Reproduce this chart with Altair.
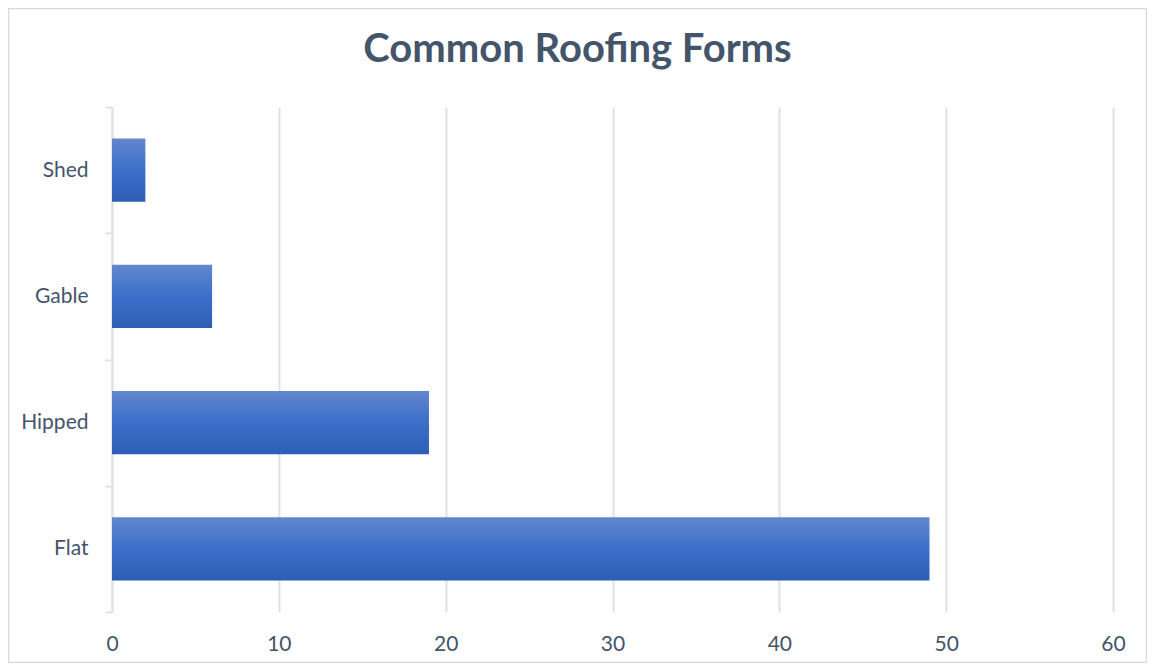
import altair as alt
import pandas as pd

categories = ["Shed", "Gable", "Hipped", "Flat"]
values = [2, 6, 19, 49]
x_ticks = [0, 10, 20, 30, 40, 50, 60]
title_text = "Common Roofing Forms"

df = pd.DataFrame({"form": categories, "count": values})

TEXT = "#44546A"
GRID = "#DDE1E8"
FONT = "Lato"

grad = alt.Gradient(
    gradient="linear",
    stops=[
        alt.GradientStop(color="#6287CD", offset=0),
        alt.GradientStop(color="#3B6FC9", offset=0.5),
        alt.GradientStop(color="#2D5EB5", offset=1),
    ],
    x1=0, x2=0, y1=0, y2=1,
)

bars = alt.Chart(df).mark_bar(color=grad, height=alt.RelativeBandSize(0.5)).encode(
    x=alt.X(
        "count:Q",
        scale=alt.Scale(domain=[0, 60], nice=False),
        axis=alt.Axis(
            values=x_ticks, title=None, ticks=False, domain=False,
            grid=True, gridColor=GRID, gridWidth=2, labelFlush=False,
            labelFont=FONT, labelFontSize=21, labelColor=TEXT, labelPadding=21,
        ),
    ),
    y=alt.Y(
        "form:N",
        sort=categories,
        scale=alt.Scale(paddingInner=0, paddingOuter=0),
        axis=alt.Axis(
            title=None, tickBand="extent", tickSize=7, tickColor=GRID, tickWidth=2,
            domainColor=GRID, domainWidth=2, grid=False,
            labelFont=FONT, labelFontSize=21, labelColor=TEXT, labelPadding=17,
        ),
    ),
)

title_df = pd.DataFrame({"t": [title_text]})
title = alt.Chart(title_df).mark_text(
    font=FONT, fontSize=40, fontWeight="bold", color=TEXT,
    align="center", baseline="middle",
).encode(
    text="t:N",
    x=alt.value(465.5),
    y=alt.value(-57),
)

border_df = pd.DataFrame({"b": [0]})
border = alt.Chart(border_df).mark_rect(
    fill=None, fillOpacity=0, stroke="#D9D9D9", strokeWidth=1.5
).encode(
    x=alt.value(-103.5), x2=alt.value(1034.5),
    y=alt.value(-98.5), y2=alt.value(555.5),
)

chart = alt.layer(bars, title, border).properties(
    width=1001,
    height=505,
    autosize=alt.AutoSizeParams(type="none"),
    padding={"left": 104, "top": 99, "right": 34, "bottom": 51},
).configure(background="white").configure_view(stroke=None)

chart.save("out.html", embed_options={"renderer": "svg", "actions": False})
